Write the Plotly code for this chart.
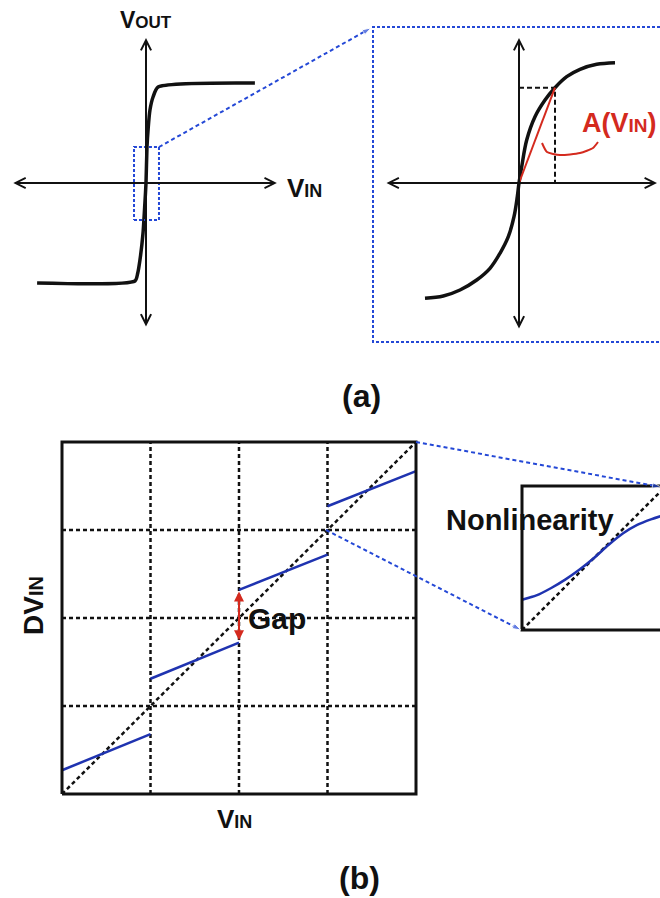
import plotly.graph_objects as go

W, H = 660, 898

# ---------------- data ----------------
# (a) left: large-signal transfer curve (x: V_IN, y: V_OUT, normalised)
aL_x = [-0.99, -0.10, -0.075, -0.055, -0.027, -0.01, 0.0, 0.009, 0.02, 0.036, 0.064, 0.11, 0.99]
aL_y = [-1.0, -0.98, -0.9, -0.77, -0.5, -0.2, 0.0, 0.36, 0.55, 0.73, 0.86, 0.96, 1.0]
aL_axis_x = [-1.22, 1.19]
aL_axis_y = [-1.45, 1.45]
aL_zoom_x = [-0.109, 0.118]
aL_zoom_y = [-0.37, 0.36]

# (a) right: zoomed transfer curve
aR_x = [-0.94, -0.757, -0.59, -0.423, -0.29, -0.19, -0.107, -0.05, -0.017, 0.0,
        0.027, 0.077, 0.16, 0.26, 0.36, 0.477, 0.61, 0.777, 0.96]
aR_y = [-1.153, -1.13, -1.07, -0.97, -0.853, -0.703, -0.537, -0.337, -0.137, 0.0,
        0.163, 0.43, 0.663, 0.83, 0.953, 1.063, 1.137, 1.187, 1.203]
aR_axis_x = [-1.34, 1.38]
aR_axis_y = [-1.47, 1.45]
aR_pt = [0.36, 0.953]          # operating point used for A(V_IN)
aR_arc_x = [0.23, 0.28, 0.41, 0.61, 0.74, 0.79]
aR_arc_y = [0.40, 0.31, 0.28, 0.30, 0.35, 0.41]

# (b) DV_IN vs V_IN
b_grid = [1, 2, 3]
b_ideal = [0, 4]
b_seg_x0 = [0, 1, 2, 3]
b_seg_y0 = [0.27, 1.31, 2.32, 3.27]
b_seg_y1 = [0.68, 1.72, 2.72, 3.67]
b_gap = [1.73, 2.30]

# (b) inset: nonlinearity inside one segment
in_x = [0.0, 0.1, 0.2, 0.3, 0.4, 0.5, 0.6, 0.7, 0.8, 0.9, 0.96]
in_y = [0.21, 0.24, 0.29, 0.35, 0.42, 0.5, 0.59, 0.67, 0.73, 0.77, 0.79]

# connector lines between panels (page-pixel coordinates)
conn1 = ([159, 371], [147, 28])
conn2 = ([416, 661], [442, 487])
conn3 = ([326, 521], [530, 630])
big_box = ([665, 373, 373, 665], [27, 27, 342, 342])

BLACK = "#111111"
BLUE = "#1f33b0"
BLUE_D = "#2448d6"
RED = "#d42a1e"
FONT = "Liberation Sans, Arial, sans-serif"

fig = go.Figure()


def dom_x(p0, p1):
    return [p0 / W, p1 / W]


def dom_y(p0, p1):
    return [1 - p1 / H, 1 - p0 / H]


def setup(n, px_x, px_y, fx, fy):
    """fx/fy: functions mapping pixel -> data value for this panel"""
    sx = "" if n == 1 else str(n)
    fig.update_layout(**{
        "xaxis" + sx: dict(domain=dom_x(*px_x), range=[fx(px_x[0]), fx(px_x[1])],
                           visible=False, fixedrange=True, anchor="y" + sx),
        "yaxis" + sx: dict(domain=dom_y(*px_y), range=[fy(px_y[1]), fy(px_y[0])],
                           visible=False, fixedrange=True, anchor="x" + sx),
    })


# panel layouts (pixel boxes and pixel->data transforms)
setup(1, (0, 330), (0, 345), lambda p: (p - 146) / 110, lambda p: (183 - p) / 100)
setup(2, (360, 660), (10, 350), lambda p: (p - 519) / 100, lambda p: (183 - p) / 100)
setup(3, (52, 426), (432, 804), lambda p: (p - 62) / 88.5, lambda p: (794 - p) / 88)
setup(4, (512, 660), (476, 640), lambda p: (p - 522) / 144, lambda p: (630 - p) / 144)
fig.update_layout(
    xaxis5=dict(domain=[0, 1], range=[0, W], visible=False, fixedrange=True, anchor="y5"),
    yaxis5=dict(domain=[0, 1], range=[H, 0], visible=False, fixedrange=True, anchor="x5"),
)


def line(x, y, ax, color, width, dash=None, shape="linear", smoothing=0.6):
    fig.add_trace(go.Scatter(
        x=x, y=y, mode="lines", xaxis="x" + ax, yaxis="y" + ax,
        line=dict(color=color, width=width, dash=dash, shape=shape, smoothing=smoothing),
        hoverinfo="skip", showlegend=False))


def arrow(ax, x0, y0, x1, y1, color, width, head=5, both=True, size=1.0):
    fig.add_annotation(
        xref="x" + ax, yref="y" + ax, axref="x" + ax, ayref="y" + ax,
        x=x1, y=y1, ax=x0, ay=y0, text="", showarrow=True,
        arrowhead=head, startarrowhead=head, arrowsize=size, startarrowsize=size,
        arrowwidth=width, arrowcolor=color,
        arrowside="end+start" if both else "end")


# ---- (a) left
arrow("", aL_axis_x[0], 0, aL_axis_x[1], 0, BLACK, 2)
arrow("", 0, aL_axis_y[0], 0, aL_axis_y[1], BLACK, 2)
line(aL_x, aL_y, "", BLACK, 3.5, shape="spline")
line([aL_zoom_x[0], aL_zoom_x[1], aL_zoom_x[1], aL_zoom_x[0], aL_zoom_x[0]],
     [aL_zoom_y[0], aL_zoom_y[0], aL_zoom_y[1], aL_zoom_y[1], aL_zoom_y[0]],
     "", BLUE_D, 2, dash="3px,2px")

# ---- (a) right
arrow("2", aR_axis_x[0], 0, aR_axis_x[1], 0, BLACK, 2)
arrow("2", 0, aR_axis_y[0], 0, aR_axis_y[1], BLACK, 2)
line([0, aR_pt[0], aR_pt[0]], [aR_pt[1], aR_pt[1], 0], "2", BLACK, 2, dash="5px,3px")
line(aR_x, aR_y, "2", BLACK, 3.5, shape="spline", smoothing=1.0)
line([0, aR_pt[0]], [0, aR_pt[1]], "2", RED, 2)
line(aR_arc_x, aR_arc_y, "2", RED, 2, shape="spline")

# ---- (b)
for g in b_grid:
    line([g, g], [0, 4], "3", BLACK, 2.5, dash="4px,3px")
    line([0, 4], [g, g], "3", BLACK, 2.5, dash="4px,3px")
line(b_ideal, b_ideal, "3", BLACK, 2.5, dash="4px,3px")
for x0, y0, y1 in zip(b_seg_x0, b_seg_y0, b_seg_y1):
    line([x0, x0 + 1], [y0, y1], "3", BLUE, 2.5)
line([0, 4, 4, 0, 0], [0, 0, 4, 4, 0], "3", BLACK, 3)
arrow("3", 2, b_gap[0], 2, b_gap[1], RED, 2, head=2, size=1.0)

# ---- inset
line([0, 1], [0, 1], "4", BLACK, 2.5, dash="4px,3px")
line(in_x, in_y, "4", BLUE, 2.5, shape="spline")
line([1.1, 0, 0, 1.1], [1, 1, 0, 0], "4", BLACK, 3)

# ---- connectors (page pixels)
for cx, cy in (conn1, conn2, conn3):
    fig.add_trace(go.Scatter(
        x=cx, y=cy, mode="lines+markers", xaxis="x5", yaxis="y5",
        line=dict(color=BLUE_D, width=2, dash="4px,3px"),
        marker=dict(symbol="arrow", size=[0, 9], angleref="previous", color=BLUE_D),
        hoverinfo="skip", showlegend=False))
line(big_box[0], big_box[1], "5", BLUE_D, 2, dash="3px,2px")


# ---- text
def label(x, y, text, size, color=BLACK, xanchor="center", angle=0):
    fig.add_annotation(xref="x5", yref="y5", x=x, y=y, text=text, showarrow=False,
                       xanchor=xanchor, yanchor="middle", textangle=angle,
                       font=dict(family=FONT, size=size, color=color, weight="bold"))


def sub(main, s, small):
    return f"{main}<span style='font-size:{small}px'>{s}</span>"


label(146, 20, sub("V", "OUT", 17), 23)
label(304, 188, sub("V", "IN", 18), 26)
label(580, 123, "A(" + sub("V", "IN", 19) + ")", 27, color=RED, xanchor="left")
label(361, 396, "(a)", 32)
label(33, 606, sub("DV", "IN", 20), 28, angle=-90)
label(234, 819, sub("V", "IN", 18), 26)
label(359, 878, "(b)", 32)
label(277, 618, "Gap", 30)
label(530, 520, "Nonlinearity", 29)

fig.update_layout(width=W, height=H, margin=dict(l=0, r=0, t=0, b=0),
                  paper_bgcolor="white", plot_bgcolor="rgba(0,0,0,0)",
                  showlegend=False)

fig.write_html("out.html")
